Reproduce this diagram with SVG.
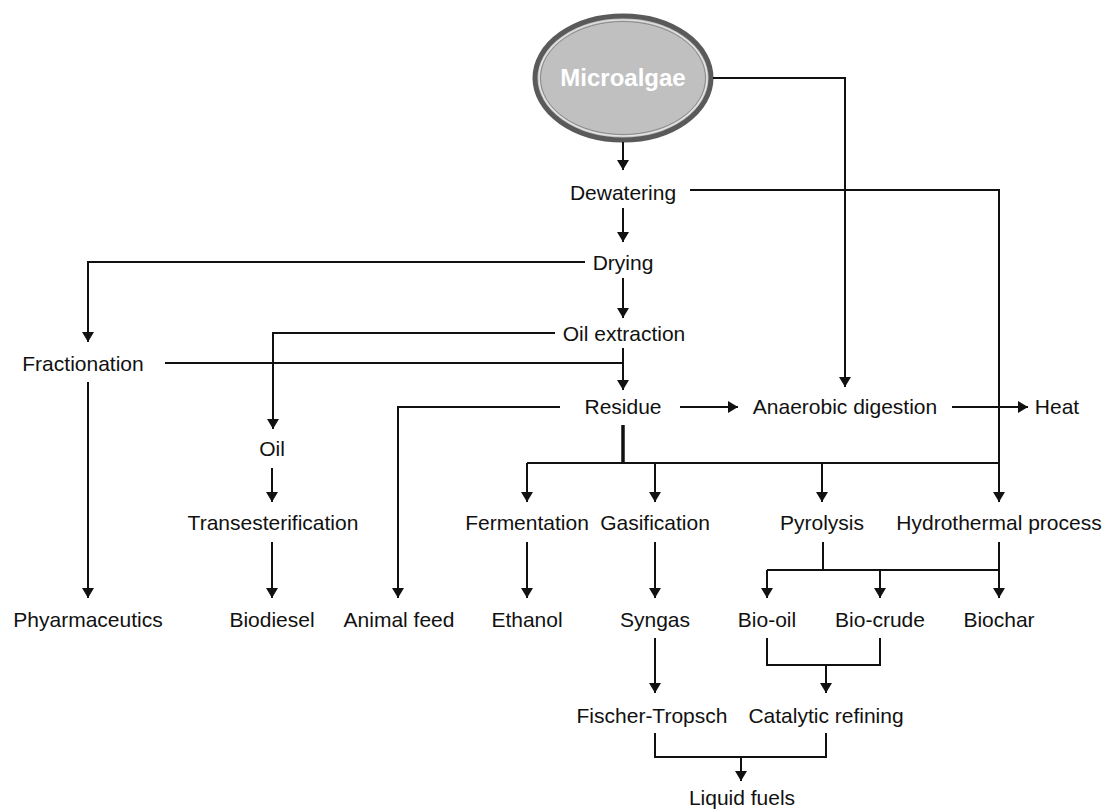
<svg xmlns="http://www.w3.org/2000/svg" width="1105" height="809" viewBox="0 0 1105 809">
<style>
text{font-family:"Liberation Sans",Arial,sans-serif;font-size:21px;fill:#111;text-anchor:middle}
.c path{fill:none;stroke:#111;stroke-width:2}
.c .a{marker-end:url(#ah)}
.c .t{stroke-width:3.5}
.title{font-size:24px;font-weight:bold;fill:#fff}
</style>
<defs>
<marker id="ah" viewBox="0 0 10 12" refX="10" refY="6" markerWidth="10" markerHeight="12" orient="auto" markerUnits="userSpaceOnUse">
<path d="M0,0 L10,6 L0,12 z" fill="#111"/>
</marker>
</defs>
<g id="microalgae">
<ellipse cx="623" cy="78" rx="88" ry="62" fill="#c0c0c0" stroke="#5a5a5a" stroke-width="5"/>
<ellipse cx="623" cy="78" rx="84" ry="58" fill="none" stroke="#e6e6e6" stroke-width="1.2"/>
<ellipse cx="623" cy="78" rx="82.5" ry="56.5" fill="none" stroke="#8a8a8a" stroke-width="1"/>
<text class="title" x="623" y="86">Microalgae</text>
</g>
<g class="c" id="connectors">
<path class="a" d="M623,142 V170"/>
<path class="a" d="M713,78 H845 V387"/>
<path class="a" d="M623,208 V242"/>
<path class="a" d="M690,190 H999 V502"/>
<path class="a" d="M623,278 V318"/>
<path class="a" d="M585,262 H88 V342"/>
<path class="a" d="M555,333 H273 V429"/>
<path class="a" d="M623,348 V390"/>
<path d="M165,363 H623"/>
<path class="a" d="M88,382 V598"/>
<path class="a" d="M560,407 H398 V598"/>
<path class="a" d="M680,407 H738"/>
<path class="a" d="M952,407 H1028"/>
<path class="t" d="M623,425 V464"/>
<path class="a" d="M527,463 V502"/>
<path d="M527,463 H999"/>
<path class="a" d="M655,463 V502"/>
<path class="a" d="M822,463 V502"/>
<path class="a" d="M272,468 V502"/>
<path class="a" d="M272,542 V598"/>
<path class="a" d="M527,542 V598"/>
<path class="a" d="M655,542 V598"/>
<path d="M823,542 V570"/>
<path class="a" d="M767,570 V598"/>
<path d="M767,570 H999"/>
<path class="a" d="M880,570 V598"/>
<path class="a" d="M999,542 V598"/>
<path d="M767,638 V665 H880 V638"/>
<path class="a" d="M826,665 V693"/>
<path class="a" d="M655,638 V693"/>
<path d="M655,733 V757 H826 V733"/>
<path class="a" d="M741,757 V781"/>
</g>
<g id="dewatering"><text x="623" y="200">Dewatering</text></g>
<g id="drying"><text x="623" y="270">Drying</text></g>
<g id="oil-extraction"><text x="624" y="341">Oil extraction</text></g>
<g id="fractionation"><text x="83" y="371">Fractionation</text></g>
<g id="residue"><text x="623" y="414">Residue</text></g>
<g id="anaerobic-digestion"><text x="845" y="414">Anaerobic digestion</text></g>
<g id="heat"><text x="1057" y="414">Heat</text></g>
<g id="oil"><text x="272" y="456">Oil</text></g>
<g id="transesterification"><text x="273" y="530">Transesterification</text></g>
<g id="fermentation"><text x="527" y="530">Fermentation</text></g>
<g id="gasification"><text x="655" y="530">Gasification</text></g>
<g id="pyrolysis"><text x="822" y="530">Pyrolysis</text></g>
<g id="hydrothermal"><text x="999" y="530">Hydrothermal process</text></g>
<g id="phyarmaceutics"><text x="88" y="627">Phyarmaceutics</text></g>
<g id="biodiesel"><text x="272" y="627">Biodiesel</text></g>
<g id="animal-feed"><text x="399" y="627">Animal feed</text></g>
<g id="ethanol"><text x="527" y="627">Ethanol</text></g>
<g id="syngas"><text x="655" y="627">Syngas</text></g>
<g id="bio-oil"><text x="767" y="627">Bio-oil</text></g>
<g id="bio-crude"><text x="880" y="627">Bio-crude</text></g>
<g id="biochar"><text x="999" y="627">Biochar</text></g>
<g id="fischer-tropsch"><text x="652" y="723">Fischer-Tropsch</text></g>
<g id="catalytic-refining"><text x="826" y="723">Catalytic refining</text></g>
<g id="liquid-fuels"><text x="742" y="805">Liquid fuels</text></g>
</svg>
